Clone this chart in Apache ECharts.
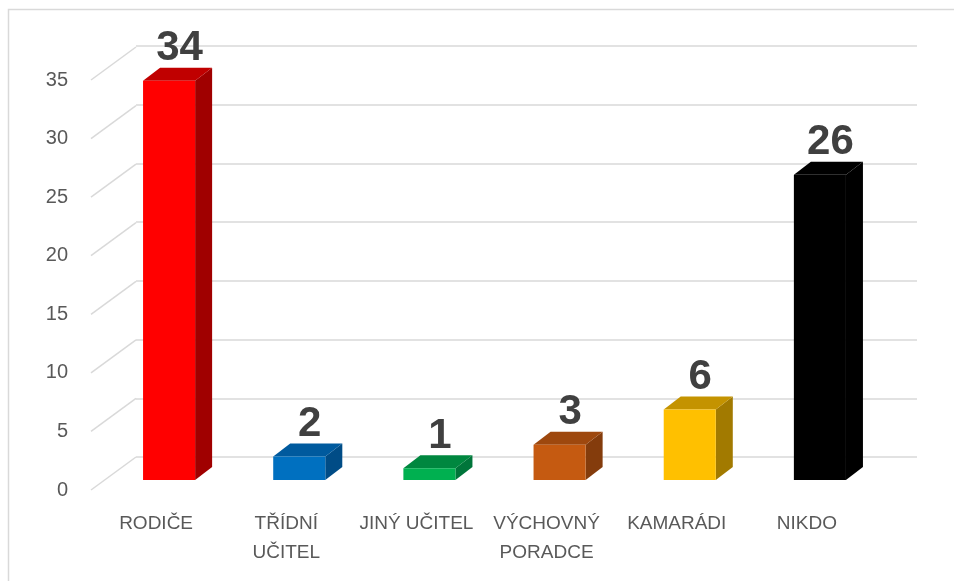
<!DOCTYPE html>
<html>
<head>
<meta charset="utf-8">
<script src="https://cdn.jsdelivr.net/npm/echarts@6/dist/echarts.min.js"></script>
<style>
html, body { margin: 0; padding: 0; background: #fff; }
#chart { width: 954px; height: 581px; }
</style>
</head>
<body>
<div id="chart"></div>
<script>
var categories = ['RODIČE', 'TŘÍDNÍ\nUČITEL', 'JINÝ UČITEL', 'VÝCHOVNÝ\nPORADCE', 'KAMARÁDI', 'NIKDO'];
var values = [34, 2, 1, 3, 6, 26];
var frontColors = ['#FF0000', '#0070C0', '#00B050', '#C55A11', '#FFC000', '#000000'];
var topColors = ['#C00000', '#005A9E', '#00873F', '#9E480E', '#C49300', '#000000'];
var sideColors = ['#A00000', '#004C86', '#00753A', '#843C0C', '#A27A00', '#000000'];
var yTicks = [0, 5, 10, 15, 20, 25, 30, 35];

// 3D depth offsets (px)
var barDepth = [17, -13];
var wallDepth = [45, -33];

var myChart = echarts.init(document.getElementById('chart'));

function renderBar(params, api) {
	var i = api.value(0);
	var v = api.value(1);
	var base = api.coord([i, 0]);
	var top = api.coord([i, v]);
	var w = api.size([1, 0])[0] * 0.4;
	var x0 = base[0] - w / 2, x1 = base[0] + w / 2;
	var dx = barDepth[0], dy = barDepth[1];
	return {
		type: 'group',
		children: [
			{
				type: 'polygon',
				shape: {points: [[x1, base[1]], [x1 + dx, base[1] + dy], [x1 + dx, top[1] + dy], [x1, top[1]]]},
				style: {fill: sideColors[i]}
			},
			{
				type: 'polygon',
				shape: {points: [[x0, top[1]], [x0 + dx, top[1] + dy], [x1 + dx, top[1] + dy], [x1, top[1]]]},
				style: {fill: topColors[i]}
			},
			{
				type: 'rect',
				shape: {x: x0, y: top[1], width: w, height: base[1] - top[1]},
				style: {fill: frontColors[i]}
			},
			{
				type: 'text',
				x: base[0] + dx / 2 + 2,
				y: top[1] + dy + 2,
				style: {
					text: String(v),
					fill: '#404040',
					font: 'bold 42px "Liberation Sans", Arial, sans-serif',
					align: 'center',
					verticalAlign: 'bottom'
				}
			}
		]
	};
}

function renderDiag(params, api) {
	var v = api.value(0);
	var p = api.coord([0, v]);
	var x = params.coordSys.x;
	return {
		type: 'line',
		shape: {x1: x, y1: p[1], x2: x + wallDepth[0], y2: p[1] + wallDepth[1]},
		style: {stroke: '#d9d9d9', lineWidth: 1.5}
	};
}

option = {
	backgroundColor: '#fff',
	animation: false,
	graphic: [
		{
			type: 'rect',
			shape: {x: 8.5, y: 9.5, width: 1000, height: 1000},
			style: {fill: null, stroke: '#d9d9d9', lineWidth: 1.5},
			silent: true
		}
	],
	grid: [
		// back wall
		{left: 136, right: 37, top: 46, bottom: 124},
		// front floor edge (labels)
		{left: 91, right: 82, top: 80, bottom: 91},
		// bar front plane
		{left: 104, right: 69, top: 69, bottom: 101}
	],
	xAxis: [
		{gridIndex: 0, type: 'category', data: categories, show: false},
		{
			gridIndex: 1, type: 'category', data: categories,
			axisLine: {show: false}, axisTick: {show: false},
			axisLabel: {
				interval: 0, margin: 19, color: '#595959', fontSize: 19, lineHeight: 29,
				fontFamily: '"Liberation Sans", Arial, sans-serif'
			}
		},
		{gridIndex: 2, type: 'category', data: categories, show: false}
	],
	yAxis: [
		{
			gridIndex: 0, type: 'value', min: 0, max: 35, interval: 5,
			axisLabel: {show: false}, axisLine: {show: false}, axisTick: {show: false},
			splitLine: {lineStyle: {color: '#d9d9d9', width: 1.5}}
		},
		{
			gridIndex: 1, type: 'value', min: 0, max: 35, interval: 5,
			axisLine: {show: false}, axisTick: {show: false}, splitLine: {show: false},
			axisLabel: {
				margin: 23, color: '#595959', fontSize: 20,
				fontFamily: '"Liberation Sans", Arial, sans-serif'
			}
		},
		{gridIndex: 2, type: 'value', min: 0, max: 35, interval: 5, show: false, splitLine: {show: false}}
	],
	series: [
		{
			type: 'custom',
			xAxisIndex: 1, yAxisIndex: 1,
			renderItem: renderDiag,
			data: yTicks.map(function (t) { return [t]; }),
			encode: {y: 0},
			silent: true
		},
		{
			type: 'custom',
			xAxisIndex: 2, yAxisIndex: 2,
			renderItem: renderBar,
			data: values.map(function (v, i) { return [i, v]; }),
			encode: {x: 0, y: 1},
			silent: true
		}
	]
};
myChart.setOption(option);
</script>
</body>
</html>
